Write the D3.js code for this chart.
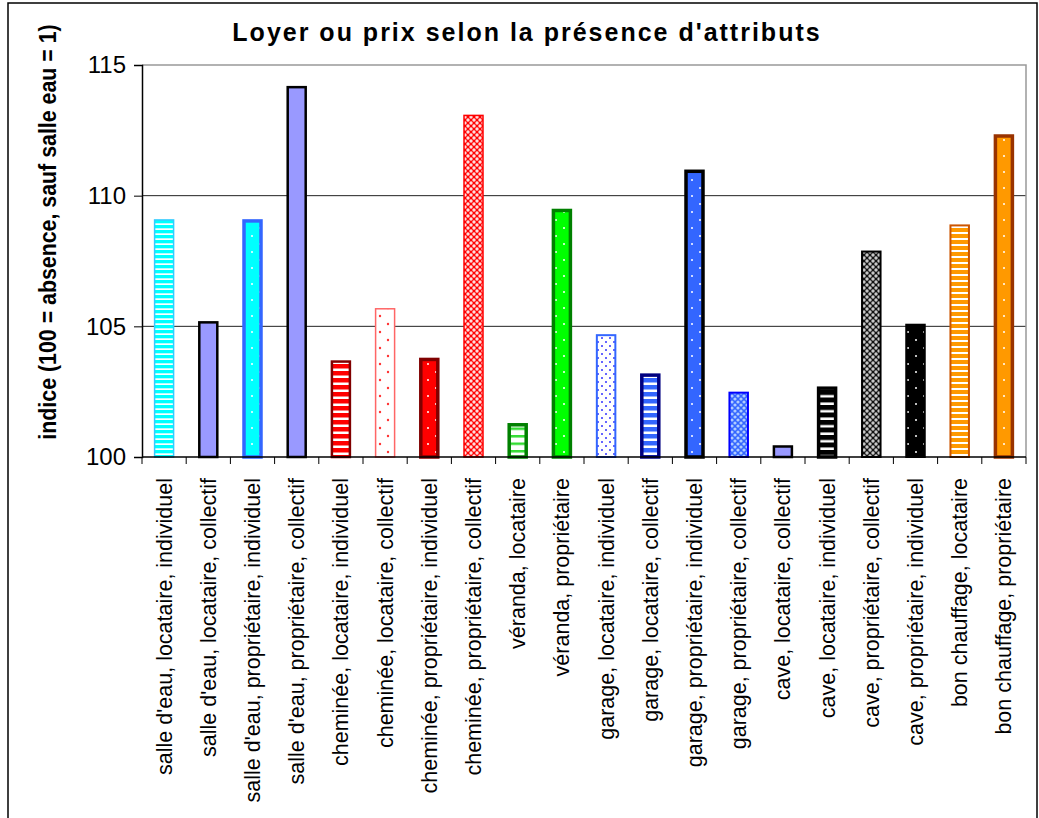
<!DOCTYPE html>
<html>
<head>
<meta charset="utf-8">
<script src="https://cdn.jsdelivr.net/npm/d3@7"></script>
<style>
  html, body { margin: 0; padding: 0; background: #fff; }
  svg { display: block; font-family: "Liberation Sans", Arial, sans-serif; }
</style>
</head>
<body>
<svg id="chart" width="1039" height="818"></svg>
<script>
// ---- data ----
const chartTitle = "Loyer ou prix selon la présence d'attributs";
const yTitle = "indice (100 = absence, sauf salle eau = 1)";
const categories = [
  "salle d'eau, locataire, individuel",
  "salle d'eau, locataire, collectif",
  "salle d'eau, propriétaire, individuel",
  "salle d'eau, propriétaire, collectif",
  "cheminée, locataire, individuel",
  "cheminée, locataire, collectif",
  "cheminée, propriétaire, individuel",
  "cheminée, propriétaire, collectif",
  "véranda, locataire",
  "véranda, propriétaire",
  "garage, locataire, individuel",
  "garage, locataire, collectif",
  "garage, propriétaire, individuel",
  "garage, propriétaire, collectif",
  "cave, locataire, collectif",
  "cave, locataire, individuel",
  "cave, propriétaire, collectif",
  "cave, propriétaire, individuel",
  "bon chauffage, locataire",
  "bon chauffage, propriétaire"
];
const values = [109.1, 105.2, 109.1, 114.2, 103.7, 105.7, 103.8, 113.1, 101.3, 109.5,
                104.7, 103.2, 111.0, 102.5, 100.45, 102.7, 107.9, 105.1, 108.9, 112.35];
const yTicks = [100, 105, 110, 115];

// ---- styles (fill pattern type, colors, border) ----
const barStyles = [
  {type:"stripes", fg:"#00FFFF", bg:"#FFFFFF", period:5, band:3.3, stroke:"#33CCFF", sw:1.5},
  {type:"solid", fg:"#9999FF", stroke:"#000000", sw:2.5},
  {type:"dots", fg:"#FFFFFF", bg:"#00FFFF", tile:16, r:1, stroke:"#3366FF", sw:3.5},
  {type:"solid", fg:"#9999FF", stroke:"#000000", sw:2.5},
  {type:"stripes", fg:"#FF0000", bg:"#FFFFFF", period:7, band:4.5, stroke:"#800000", sw:2.5},
  {type:"dots", fg:"#FF3333", bg:"#FFFFFF", tile:16, r:1.2, stroke:"#FF6666", sw:1.5},
  {type:"dots", fg:"#FFFFFF", bg:"#FF0000", tile:16, r:1, stroke:"#800000", sw:3.5},
  {type:"grid", fg:"#FFDDDD", bg:"#FF0000", tile:6, r:1.7, stroke:"#FF0000", sw:1.5},
  {type:"stripes", fg:"#33DD33", bg:"#FFFFFF", period:7.5, band:2.5, stroke:"#008000", sw:3.5},
  {type:"dots", fg:"#FFFFFF", bg:"#00FF00", tile:16, r:1, stroke:"#008000", sw:3.5},
  {type:"dots", fg:"#3333FF", bg:"#FFFFFF", tile:8, r:1, stroke:"#3366FF", sw:2},
  {type:"stripes", fg:"#3366FF", bg:"#FFFFFF", period:7, band:4.5, stroke:"#000080", sw:3.5},
  {type:"dots", fg:"#FFFFFF", bg:"#3366FF", tile:16, r:1, stroke:"#000000", sw:3.5},
  {type:"grid", fg:"#B0CCFF", bg:"#3366FF", tile:6, r:1.6, stroke:"#0000FF", sw:2},
  {type:"solid", fg:"#9999FF", stroke:"#000000", sw:2.5},
  {type:"stripes", fg:"#000000", bg:"#FFFFFF", period:7.5, band:5, stroke:"#000000", sw:3.5},
  {type:"grid", fg:"#C8C8C8", bg:"#111111", tile:6, r:1.7, stroke:"#000000", sw:2},
  {type:"dots", fg:"#FFFFFF", bg:"#000000", tile:16, r:1, stroke:"#000000", sw:2},
  {type:"stripes", fg:"#FF9900", bg:"#FFFFFF", period:6, band:4, stroke:"#CC5500", sw:2},
  {type:"dots", fg:"#FFFFFF", bg:"#FF9900", tile:16, r:1, stroke:"#993300", sw:3.5}
];

// ---- layout ----
const W = 1039, H = 818;
const plot = {left: 142, right: 1026, top: 65, bottom: 457};
const barWidth = 20.5;

const svg = d3.select("#chart");
svg.append("rect").attr("width", W).attr("height", H).attr("fill", "#fff");
// outer chart border
svg.append("rect").attr("x", 8).attr("y", 3).attr("width", 1029).attr("height", H + 10)
  .attr("fill", "none").attr("stroke", "#000").attr("stroke-width", 1.5);

const x = d3.scaleBand().domain(categories).range([plot.left, plot.right]).paddingInner(0).paddingOuter(0);
const y = d3.scaleLinear().domain([100, 115]).range([plot.bottom, plot.top]);

// patterns
const defs = svg.append("defs");
barStyles.forEach((s, i) => {
  if (s.type === "solid") return;
  const id = "pat" + i;
  if (s.type === "stripes") {
    const p = defs.append("pattern").attr("id", id).attr("patternUnits", "userSpaceOnUse")
      .attr("width", 8).attr("height", s.period).attr("y", 0);
    p.append("rect").attr("width", 8).attr("height", s.period).attr("fill", s.bg);
    p.append("rect").attr("width", 8).attr("height", s.band).attr("fill", s.fg);
  } else if (s.type === "dots") {
    const t = s.tile;
    const p = defs.append("pattern").attr("id", id).attr("patternUnits", "userSpaceOnUse")
      .attr("width", t).attr("height", t);
    p.append("rect").attr("width", t).attr("height", t).attr("fill", s.bg);
    p.append("circle").attr("cx", t / 4).attr("cy", t / 4).attr("r", s.r).attr("fill", s.fg);
    p.append("circle").attr("cx", 3 * t / 4).attr("cy", 3 * t / 4).attr("r", s.r).attr("fill", s.fg);
  } else if (s.type === "grid") {
    const t = s.tile;
    const p = defs.append("pattern").attr("id", id).attr("patternUnits", "userSpaceOnUse")
      .attr("width", t).attr("height", t);
    p.append("rect").attr("width", t).attr("height", t).attr("fill", s.bg);
    [[0,0],[t,0],[0,t],[t,t],[t/2,t/2]].forEach(([cx, cy]) => {
      p.append("circle").attr("cx", cx).attr("cy", cy).attr("r", s.r).attr("fill", s.fg);
    });
  }
});

// gridlines
svg.append("g").selectAll("line").data(yTicks.filter(v => v > 100 && v < 115)).join("line")
  .attr("x1", plot.left).attr("x2", plot.right)
  .attr("y1", d => y(d)).attr("y2", d => y(d))
  .attr("stroke", "#222").attr("stroke-width", 1);

// plot border (top & right gray)
svg.append("path")
  .attr("d", `M${plot.left},${plot.top}H${plot.right}V${plot.bottom}`)
  .attr("fill", "none").attr("stroke", "#999").attr("stroke-width", 1.5);

// bars
const data = categories.map((c, i) => ({c, v: values[i], s: barStyles[i], i}));
svg.append("g").selectAll("rect").data(data).join("rect")
  .attr("x", d => x(d.c) + (x.bandwidth() - barWidth) / 2 + d.s.sw / 2)
  .attr("width", d => barWidth - d.s.sw)
  .attr("y", d => y(d.v) + d.s.sw / 2)
  .attr("height", d => y(100) - y(d.v) - d.s.sw / 2)
  .attr("fill", d => d.s.type === "solid" ? d.s.fg : `url(#pat${d.i})`)
  .attr("stroke", d => d.s.stroke)
  .attr("stroke-width", d => d.s.sw);

// y axis
const yAxis = d3.axisLeft(y).tickValues(yTicks).tickFormat(d3.format("d")).tickSize(8).tickPadding(8);
const gy = svg.append("g").attr("transform", `translate(${plot.left},0)`).call(yAxis);
gy.select(".domain").attr("stroke", "#000").attr("stroke-width", 1.5);
gy.selectAll(".tick line").attr("stroke", "#000");
gy.selectAll(".tick text").attr("font-size", 24).attr("fill", "#000")
  .attr("font-family", "Liberation Sans, Arial, sans-serif");

// x axis: ticks at category boundaries
const xAxisLine = svg.append("g");
xAxisLine.append("line").attr("x1", plot.left).attr("x2", plot.right)
  .attr("y1", plot.bottom).attr("y2", plot.bottom).attr("stroke", "#000").attr("stroke-width", 1.5);
const bounds = categories.map(c => x(c)).concat([plot.right]);
xAxisLine.selectAll("line.tk").data(bounds).join("line").attr("class", "tk")
  .attr("x1", d => d).attr("x2", d => d)
  .attr("y1", plot.bottom).attr("y2", plot.bottom + 7)
  .attr("stroke", "#000").attr("stroke-width", 1);

// x labels (rotated)
svg.append("g").selectAll("text").data(categories).join("text")
  .attr("transform", d => `translate(${x(d) + x.bandwidth() / 2},${plot.bottom + 21}) rotate(-90)`)
  .attr("text-anchor", "end").attr("dy", "0.35em")
  .attr("font-size", 21.5).attr("fill", "#000")
  .text(d => d);

// title
svg.append("text").attr("x", 527).attr("y", 41).attr("text-anchor", "middle")
  .attr("font-size", 25).attr("font-weight", "bold").attr("letter-spacing", 2.0)
  .text(chartTitle);

// y title
svg.append("text")
  .attr("transform", `translate(56,232) rotate(-90) scale(0.89,1)`)
  .attr("text-anchor", "middle")
  .attr("font-size", 24).attr("font-weight", "bold")
  .text(yTitle);
</script>
</body>
</html>
